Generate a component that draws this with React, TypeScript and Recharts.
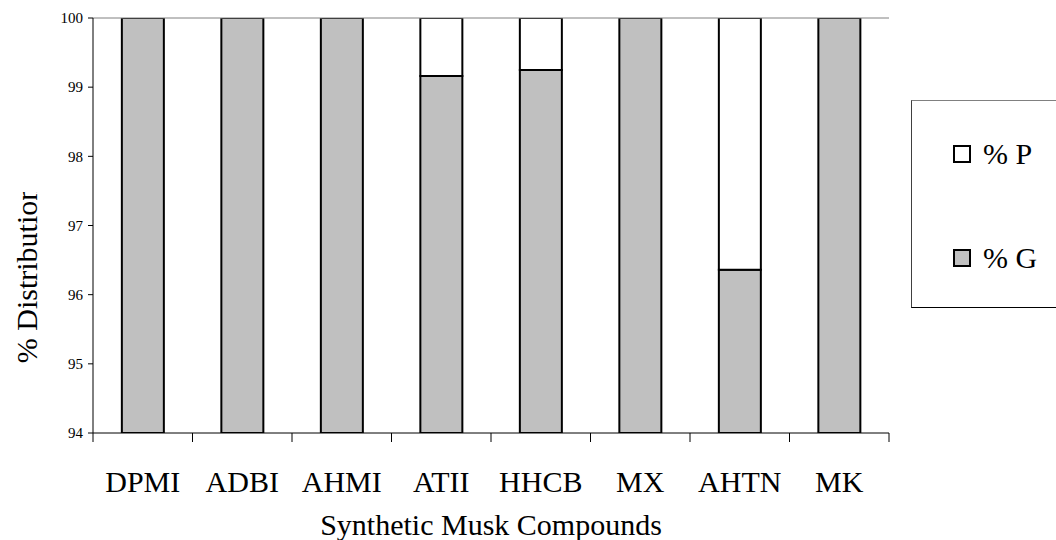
import React from 'react';
import { BarChart, Bar, XAxis, YAxis, Legend, ReferenceLine, Label } from 'recharts';

const compounds = ['DPMI', 'ADBI', 'AHMI', 'ATII', 'HHCB', 'MX', 'AHTN', 'MK'];
const gasPct = [100, 100, 100, 99.16, 99.25, 100, 96.36, 100];
const particlePct = [0, 0, 0, 0.84, 0.75, 0, 3.64, 0];
const yTicks = [94, 95, 96, 97, 98, 99, 100];

const FONT = "'Liberation Serif', 'Times New Roman', serif";
const WIDTH = 1056;
const HEIGHT = 540;
const MARGIN = { top: 18, right: 167, bottom: 0, left: 0 };
const Y_AXIS_W = 93;
// width of one category band, used for the boundary tick marks
const BAND = (WIDTH - MARGIN.right - Y_AXIS_W) / compounds.length;

const chartData = compounds.map((name, i) => ({
  name,
  g: gasPct[i],
  p: particlePct[i],
}));

const CategoryTick = ({ x, y, payload, index }: any) => (
  <g>
    <line x1={x - BAND / 2} y1={y} x2={x - BAND / 2} y2={y + 9} stroke="#000" strokeWidth={1} />
    {index === compounds.length - 1 && (
      <line x1={x + BAND / 2} y1={y} x2={x + BAND / 2} y2={y + 9} stroke="#000" strokeWidth={1} />
    )}
    <text x={x} y={y + 59} textAnchor="middle" fontSize={30} fontFamily={FONT} fill="#000">
      {payload.value}
    </text>
  </g>
);

const ValueTick = ({ x, y, payload }: any) => (
  <text x={x} y={y} dy="0.35em" textAnchor="end" fontSize={15} fontFamily={FONT} fill="#000">
    {payload.value}
  </text>
);

const XTitle = ({ viewBox }: any) => (
  <text
    x={viewBox.x + viewBox.width / 2}
    y={viewBox.y + 102}
    textAnchor="middle"
    fontSize={30}
    fontFamily={FONT}
    fill="#000"
  >
    Synthetic Musk Compounds
  </text>
);

// the original label is cut off at its top end, so clip it the same way
const YTitle = () => (
  <g>
    <defs>
      <clipPath id="ylabel-clip">
        <rect x={0} y={192} width={60} height={300} />
      </clipPath>
    </defs>
    <g clipPath="url(#ylabel-clip)">
      <text
        x={37}
        y={274.5}
        transform="rotate(-90 37 274.5)"
        textAnchor="middle"
        fontSize={30}
        fontFamily={FONT}
        fill="#000"
      >
        % Distribution
      </text>
    </g>
  </g>
);

const LegendBox = ({ payload }: any) => {
  const items = [...(payload || [])].reverse();
  return (
    <div
      style={{
        width: 160,
        height: 208,
        boxSizing: 'border-box',
        borderTop: '1px solid #808080',
        borderLeft: '1px solid #404040',
        borderBottom: '1px solid #000',
        background: '#fff',
        position: 'relative',
        fontFamily: FONT,
      }}
    >
      {items.map((entry: any, i: number) => (
        <div
          key={entry.value}
          style={{
            position: 'absolute',
            left: 41,
            top: 38 + i * 104,
            display: 'flex',
            alignItems: 'center',
            fontSize: 30,
            lineHeight: '30px',
            color: '#000',
            whiteSpace: 'nowrap',
          }}
        >
          <span
            style={{
              display: 'inline-block',
              width: 18,
              height: 18,
              boxSizing: 'border-box',
              border: '2px solid #000',
              background: entry.payload?.fill ?? entry.color,
              marginRight: 12,
            }}
          />
          {entry.value}
        </div>
      ))}
    </div>
  );
};

export default function App() {
  return (
    <div style={{ position: 'absolute', left: 0, top: 0, width: WIDTH, height: HEIGHT, overflow: 'hidden', background: '#fff' }}>
      <BarChart width={WIDTH} height={HEIGHT} data={chartData} margin={MARGIN} barCategoryGap="29%">
        <XAxis
          dataKey="name"
          height={107}
          axisLine={{ stroke: '#000', strokeWidth: 1 }}
          tickLine={false}
          tickSize={0}
          tickMargin={0}
          tick={<CategoryTick />}
          interval={0}
        >
          <Label content={<XTitle />} />
        </XAxis>
        <YAxis
          width={Y_AXIS_W}
          domain={[94, 100]}
          ticks={yTicks}
          allowDataOverflow
          axisLine={{ stroke: '#000', strokeWidth: 1 }}
          tickLine={{ stroke: '#000' }}
          tickSize={5}
          tickMargin={5}
          tick={<ValueTick />}
        >
          <Label content={<YTitle />} />
        </YAxis>
        <YAxis
          yAxisId="frame"
          orientation="right"
          width={0}
          domain={[94, 100]}
          tick={false}
          tickLine={false}
          axisLine={{ stroke: '#808080', strokeWidth: 1 }}
        />
        <ReferenceLine y={100} stroke="#808080" strokeWidth={1} />
        <Bar dataKey="g" name="% G" stackId="a" fill="#C0C0C0" stroke="#000" strokeWidth={2} isAnimationActive={false} />
        <Bar dataKey="p" name="% P" stackId="a" fill="#FFFFFF" stroke="#000" strokeWidth={2} isAnimationActive={false} />
        <Legend
          layout="horizontal"
          verticalAlign="middle"
          align="center"
          content={<LegendBox />}
          wrapperStyle={{ left: 911, top: 100, width: 160, height: 208 }}
        />
      </BarChart>
    </div>
  );
}
